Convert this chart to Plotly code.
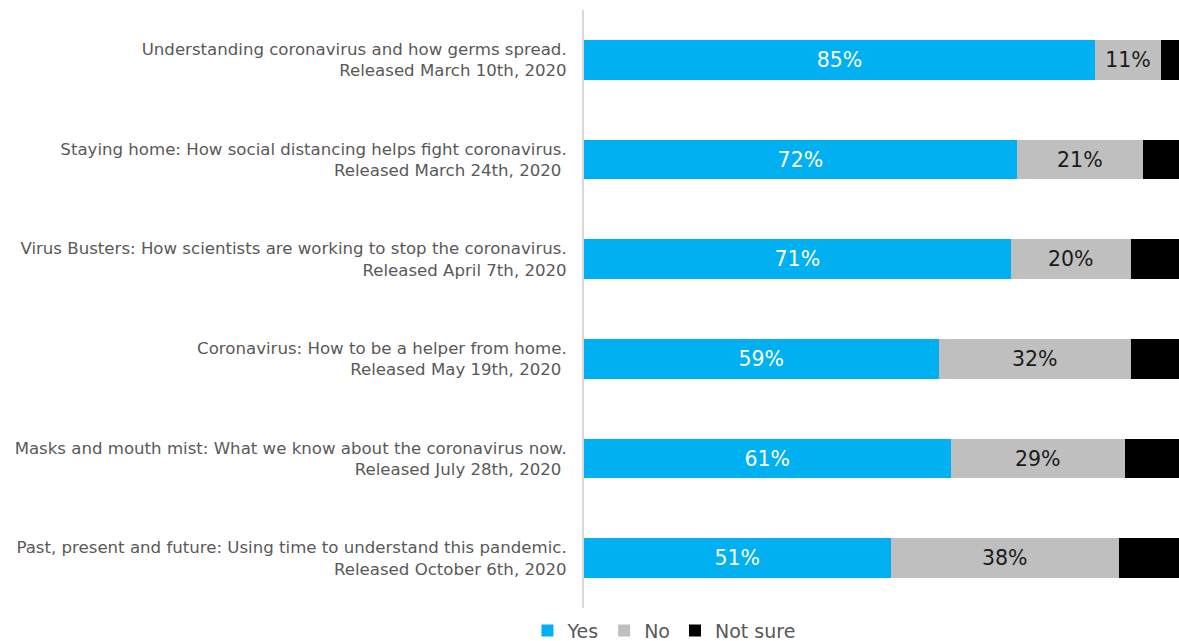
import plotly.graph_objects as go

categories = [
    "Understanding coronavirus and how germs spread.<br>Released March 10th, 2020",
    "Staying home: How social distancing helps fight coronavirus.<br>Released March 24th, 2020 ",
    "Virus Busters: How scientists are working to stop the coronavirus.<br>Released April 7th, 2020",
    "Coronavirus: How to be a helper from home.<br>Released May 19th, 2020 ",
    "Masks and mouth mist: What we know about the coronavirus now.<br>Released July 28th, 2020 ",
    "Past, present and future: Using time to understand this pandemic.<br>Released October 6th, 2020",
]
yes = [85, 72, 71, 59, 61, 51]
no = [11, 21, 20, 32, 29, 38]
not_sure = [3, 6, 8, 8, 9, 10]

FONT = "'DejaVu Sans', sans-serif"

fig = go.Figure()
fig.add_trace(go.Bar(
    y=categories, x=yes, name="Yes", orientation="h",
    marker=dict(color="#00B0F0", line=dict(width=0)),
    texttemplate="%{x}%", textposition="inside", insidetextanchor="middle",
    textfont=dict(color="white", size=20.5, family=FONT),
))
fig.add_trace(go.Bar(
    y=categories, x=no, name="No", orientation="h",
    marker=dict(color="#BFBFBF", line=dict(width=0)),
    texttemplate="%{x}%", textposition="inside", insidetextanchor="middle",
    textfont=dict(color="#1a1a1a", size=20.5, family=FONT),
))
fig.add_trace(go.Bar(
    y=categories, x=not_sure, name="Not sure", orientation="h",
    marker=dict(color="#000000", line=dict(width=0)),
    hoverinfo="x+name",
))

fig.update_layout(
    barmode="stack",
    bargap=0.6,
    width=1179, height=641,
    margin=dict(l=584, r=0, t=10, b=33, autoexpand=False),
    plot_bgcolor="white", paper_bgcolor="white",
    font=dict(family=FONT, color="#595959", size=16.6),
    uniformtext=dict(mode="show", minsize=10),
    xaxis=dict(range=[0, 99], visible=False, showgrid=False, zeroline=False),
    yaxis=dict(autorange="reversed", showline=True, linecolor="#D9D9D9", linewidth=2,
               ticks="", ticklabelstandoff=12, tickfont=dict(size=16.6, color="#595959")),
    legend=dict(orientation="h", x=-0.095, xanchor="left", y=-0.006, yanchor="top",
                font=dict(size=19, color="#595959"), traceorder="normal",
                itemwidth=30, tracegroupgap=0),
    showlegend=True,
)

fig.write_html("out.html", config={"displayModeBar": False},
               post_script="document.body.style.margin='0';document.body.style.overflow='hidden';")
